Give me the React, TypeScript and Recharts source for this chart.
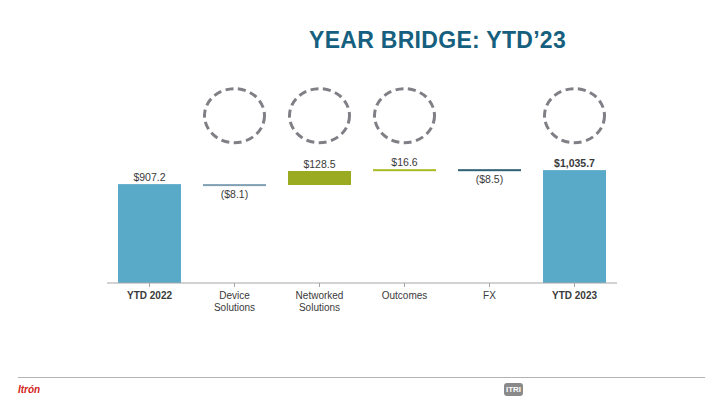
import { Bar, BarChart, Cell, LabelList, ReferenceDot, XAxis, YAxis } from 'recharts'

const categories = ['YTD 2022', 'Device\nSolutions', 'Networked\nSolutions', 'Outcomes', 'FX', 'YTD 2023']
const values = [907.2, -8.1, 128.5, 16.6, -8.5, 1035.7]
const isTotal = [true, false, false, false, false, true]
const valueLabels = ['$907.2', '($8.1)', '$128.5', '$16.6', '($8.5)', '$1,035.7']
const circled = [false, true, true, true, false, true]
const barColors = ['#59a9c9', '#7f9fb3', '#9bab21', '#a9ba22', '#2f6074', '#59a9c9']

// waterfall: invisible base + visible step, base from the running total
let running = 0
const data = categories.map((name, i) => {
  const v = values[i]
  let base: number
  if (isTotal[i]) {
    base = 0
    running = v
  } else {
    base = v >= 0 ? running : running + v
    running += v
  }
  return { name, base, step: Math.abs(v), label: valueLabels[i], neg: v < 0, total: isTotal[i] }
})

const CIRCLE_Y = 1535

const Tick = (props: any) => {
  const { x, y, payload } = props
  const lines = String(payload.value).split('\n')
  const bold = payload.value.startsWith('YTD')
  return (
    <text x={x} y={y + 10} textAnchor="middle" fontSize={10} fill="#3a3a3a" fontWeight={bold ? 700 : 400}>
      {lines.map((l, i) => (
        <tspan key={i} x={x} dy={i === 0 ? 0 : 12}>
          {l}
        </tspan>
      ))}
    </text>
  )
}

const StepShape = (props: any) => {
  const { x, y, width, height, fill } = props
  const h = Math.max(height, 2)
  return <rect x={x} y={y} width={width} height={h} fill={fill} />
}

const ValueLabel = (props: any) => {
  const { x, y, width, height, index } = props
  const d = data[index]
  const cx = x + width / 2
  const ty = d.neg ? y + Math.max(height, 2) + 12 : y - 3
  return (
    <text x={cx} y={ty} textAnchor="middle" fontSize={10.5} fill="#3a3a3a" fontWeight={index === 5 ? 700 : 400}>
      {d.label}
    </text>
  )
}

const Ellipse = (props: any) => {
  const { cx, cy } = props
  return (
    <ellipse cx={cx} cy={cy} rx={30} ry={27} fill="none" stroke="#7f7f86" strokeWidth={3} strokeDasharray="8 4.5" />
  )
}

export default function App() {
  return (
    <div style={{ position: 'absolute', left: 0, top: 0, width: 720, height: 405, background: '#fff', fontFamily: '"Liberation Sans", Arial, sans-serif' }}>
      <div style={{ position: 'absolute', left: 309, top: 27, fontSize: 23, fontWeight: 700, letterSpacing: 0.3, color: '#165f7e', whiteSpace: 'nowrap' }}>
        YEAR BRIDGE: YTD’23
      </div>
      <div style={{ position: 'absolute', left: 0, top: 0 }}>
        <BarChart width={720} height={405} data={data} margin={{ top: 65, right: 103, bottom: 82, left: 107 }} barSize={63}>
          <XAxis dataKey="name" stroke="#a6a6a6" tickLine={{ stroke: '#a6a6a6' }} tickSize={4} interval={0} height={40} tick={<Tick />} />
          <YAxis hide domain={[0, 2000]} />
          <Bar dataKey="base" stackId="w" fill="transparent" isAnimationActive={false} />
          <Bar dataKey="step" stackId="w" isAnimationActive={false} shape={<StepShape />}>
            {data.map((d, i) => (
              <Cell key={d.name} fill={barColors[i]} />
            ))}
            <LabelList dataKey="step" content={<ValueLabel />} />
          </Bar>
          {data.map((d, i) =>
            circled[i] ? <ReferenceDot key={d.name} x={d.name} y={CIRCLE_Y} r={30} shape={<Ellipse />} /> : null,
          )}
        </BarChart>
      </div>
      <div style={{ position: 'absolute', left: 18, top: 377, width: 687, height: 1, background: '#b3b3b3' }} />
      <div style={{ position: 'absolute', left: 18, top: 384, fontSize: 10, fontWeight: 700, fontStyle: 'italic', color: '#d3261c' }}>
        Itrón
      </div>
      <div style={{ position: 'absolute', left: 504, top: 383, width: 19, height: 13, borderRadius: 3, background: '#8a8a8a', color: '#fff', fontSize: 8, fontWeight: 700, lineHeight: '13px', textAlign: 'center' }}>
        ITRI
      </div>
    </div>
  )
}
